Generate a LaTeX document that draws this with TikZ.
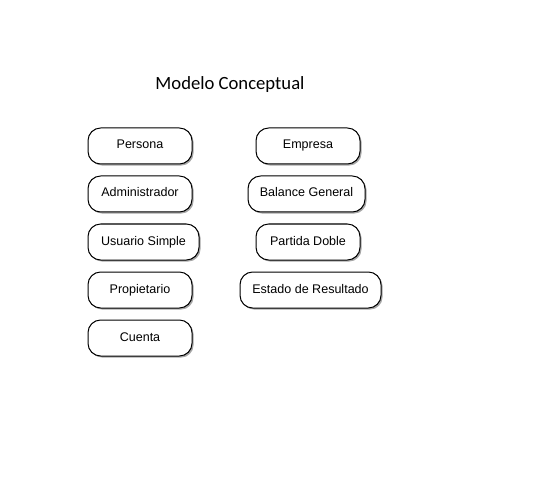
\documentclass[tikz,border=0pt]{standalone}
\usepackage{fontspec}
\setmainfont{Liberation Sans}
\newfontfamily\titlefont{Carlito}
\usetikzlibrary{shadows}
\begin{document}
\begin{tikzpicture}[x=0.75pt,y=-0.75pt,
  box/.style={draw=black, line width=0.75pt, fill=white, rounded corners=9.5pt,
    minimum height=27pt, inner sep=0pt, text height=7pt, text depth=2.5pt,
    font=\fontsize{9.4}{10}\selectfont,
    drop shadow={shadow xshift=1.2pt, shadow yshift=-1.2pt, fill=gray!70, opacity=1}},
  ttl/.style={font=\titlefont\fontsize{14}{16}\selectfont, inner sep=0pt}]
\useasboundingbox (0,0) rectangle (548,484);
\node[ttl] (title) at (230,85) {Modelo Conceptual};
\node[box, minimum width=78pt] (persona) at (140,146) {Persona};
\node[box, minimum width=78pt] (admin) at (140,194) {Administrador};
\node[box, minimum width=83.25pt] (usuario) at (143.5,242) {Usuario Simple};
\node[box, minimum width=78pt] (prop) at (140,290) {Propietario};
\node[box, minimum width=78pt] (cuenta) at (140,338) {Cuenta};
\node[box, minimum width=78pt] (empresa) at (308,146) {Empresa};
\node[box, minimum width=87.75pt] (balance) at (306.5,194) {Balance General};
\node[box, minimum width=78pt] (partida) at (308,242) {Partida Doble};
\node[box, minimum width=105.75pt] (estado) at (310.5,290) {Estado de Resultado};
\end{tikzpicture}
\end{document}
